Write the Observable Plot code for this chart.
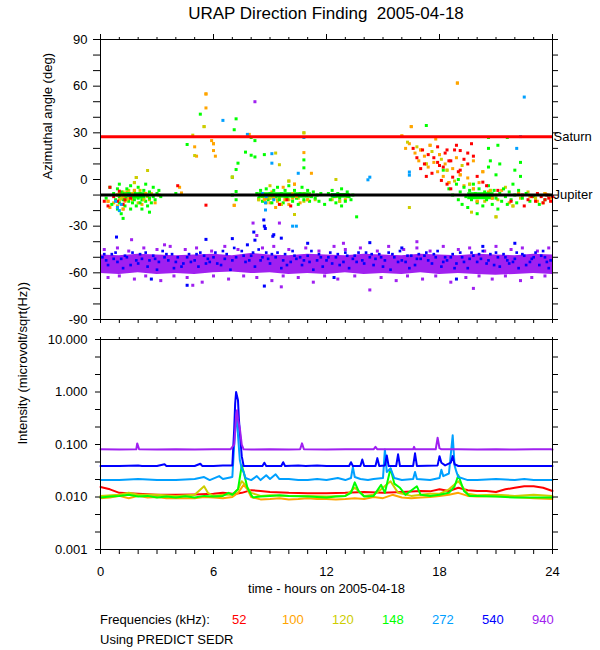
<!DOCTYPE html>
<html>
<head>
<meta charset="utf-8">
<script src="https://cdn.jsdelivr.net/npm/d3@7"></script>
<script src="https://cdn.jsdelivr.net/npm/@observablehq/plot@0.6"></script>
<style>
  body { margin: 0; background: white; }
  #wrap { position: relative; width: 600px; height: 650px; background: white; font-family: "Liberation Sans", Arial, sans-serif; color: black; }
  .abs { position: absolute; white-space: nowrap; }
</style>
</head>
<body>
<div id="wrap">
  <div id="top" class="abs" style="left:0;top:0;"></div>
  <div id="bottom" class="abs" style="left:0;top:330px;"></div>
  <div id="title" class="abs" style="left:100px;width:452px;top:4px;text-align:center;font-size:17px;z-index:5;"></div>
  <div id="legend"></div>
</div>
<script>
// ---------- DATA ----------
const titleText = "URAP Direction Finding\u00a0 2005-04-18";
const hourTicks = d3.range(0, 25, 1);
const hourLabels = [0, 6, 12, 18, 24];
const angleMinorTicks = d3.range(-90, 91, 10);
const angleTicks = [-90, -60, -30, 0, 30, 60, 90];
const intensityTicks = [0.001, 0.01, 0.1, 1, 10];
const intensityTickLabels = ["0.001", "0.010", "0.100", "1.000", "10.000"];
const planetNames = ["Saturn", "Jupiter"];
const planetAngles = [27.5, -10];
const planetColors = ["#ff0000", "#000000"];

const freqLabels = ["52", "100", "120", "148", "272", "540", "940"];
const freqColors = ["#ff0000", "#ffa500", "#cdcd00", "#00ff00", "#00a0ff", "#0000ff", "#a020f0"];

// purple (940 kHz) dense band extents, per hour
const bandHours = d3.range(0, 25, 1);
const bandHigh = [-48.5,-49,-48,-48.5,-49,-48.5,-48,-49,-47.5,-48.5,-49,-48,-48.5,-49,-48,-48.5,-49,-48,-48.5,-49,-48,-48.5,-49,-48,-48.5];
const bandLow  = [-60.5,-61,-60,-61,-60.5,-61,-60,-59.5,-60.5,-60,-61,-60.5,-61,-60,-61,-60.5,-61,-60,-61,-60.5,-61,-61.5,-61,-60.5,-61];

const purpleDots = [
 [0.2,-45],[0.9,-44],[1.5,-46],[2.3,-44],[3.0,-45],[3.7,-43],[4.5,-45],[5.1,-44],[5.9,-46],[6.6,-43],[7.3,-45],[8.6,-44],[9.2,-43],[10.0,-45],[10.9,-44],[11.6,-46],[12.4,-43],[13.0,-45],[13.8,-44],[14.7,-46],[15.3,-43],[16.1,-45],[16.8,-44],[17.5,-46],[18.2,-43],[19.0,-45],[19.6,-44],[20.4,-46],[21.0,-43],[21.8,-45],[22.4,-44],[23.2,-46],[23.8,-44],
 [0.4,-63],[1.0,-62],[1.8,-64],[2.4,-62],[3.2,-65],[3.9,-62],[4.6,-63],[5.4,-66],[6.0,-62],[6.8,-64],[7.6,-62],[8.3,-63],[9.1,-65],[9.7,-62],[10.5,-63],[11.3,-66],[11.9,-62],[12.6,-64],[13.5,-62],[14.3,-71],[14.9,-63],[15.7,-65],[16.3,-62],[17.1,-64],[17.8,-62],[18.6,-66],[19.4,-63],[20.1,-62],[20.8,-64],[21.5,-62],[22.3,-65],[22.9,-63],[23.6,-62],[4.9,-68],[9.6,-69],[19.8,-70],
 [8.2,50],[1.65,-38.7],[8.1,-28],[9.5,-28],[8.3,-36],[16.8,-40],[12.9,-41],[3.4,-42]
];
const blueDots = [
 [0.1,-50],[0.4,-55],[0.6,-48],[0.9,-53],[1.2,-57],[1.4,-50],[1.7,-47],[2.0,-54],[2.2,-51],[2.5,-56],[2.8,-49],[3.1,-53],[3.3,-46],[3.6,-52],[3.9,-57],[4.1,-50],[4.4,-54],[4.7,-48],[5.0,-52],[5.2,-56],[5.5,-49],[5.8,-53],[6.1,-47],[6.4,-55],[6.6,-51],[6.9,-58],[7.2,-50],[7.5,-46],[7.7,-53],[8.0,-49],[8.2,-56],[8.5,-52],[8.8,-47],[9.0,-54],[9.3,-50],[9.6,-57],[9.8,-48],[10.1,-53],[10.4,-51],[10.7,-55],[11.0,-49],[11.2,-46],[11.5,-52],[11.8,-56],[12.1,-50],[12.3,-54],[12.6,-48],[12.9,-53],[13.2,-57],[13.4,-51],[13.7,-47],[14.0,-54],[14.3,-50],[14.5,-55],[14.8,-48],[15.1,-52],[15.4,-58],[15.6,-50],[15.9,-46],[16.2,-53],[16.5,-49],[16.7,-55],[17.0,-51],[17.3,-47],[17.6,-54],[17.8,-50],[18.1,-56],[18.4,-52],[18.7,-48],[18.9,-54],[19.2,-50],[19.5,-57],[19.8,-49],[20.0,-53],[20.3,-46],[20.6,-52],[20.9,-55],[21.1,-50],[21.4,-48],[21.7,-54],[22.0,-51],[22.2,-57],[22.5,-49],[22.8,-53],[23.1,-47],[23.3,-55],[23.6,-50],[23.9,-52],
 [0.3,-52],[0.8,-47],[1.1,-51],[1.6,-55],[2.1,-48],[2.6,-52],[3.0,-58],[3.4,-50],[3.8,-48],[4.3,-56],[4.8,-53],[5.3,-47],[5.7,-51],[6.2,-54],[6.7,-48],[7.1,-44],[7.9,-52],[8.4,-45],[8.9,-51],[9.4,-47],[9.9,-55],[10.3,-49],[10.8,-52],[11.3,-58],[11.7,-50],[12.2,-47],[12.7,-55],[13.1,-49],[13.6,-53],[14.1,-47],[14.6,-51],[15.0,-56],[15.5,-48],[16.0,-52],[16.4,-57],[16.9,-48],[17.4,-52],[17.9,-46],[18.3,-50],[18.8,-57],[19.3,-53],[19.7,-47],[20.2,-51],[20.7,-48],[21.2,-56],[21.6,-52],[22.1,-47],[22.6,-55],[23.0,-50],[23.5,-46],[23.8,-57],
 [0.2,-48],[0.7,-51],[1.3,-49],[1.9,-52],[2.4,-47],[2.9,-51],[3.5,-48],[4.0,-53],[4.6,-50],[5.1,-48],[5.6,-54],[6.0,-50],[6.5,-46],[7.0,-52],[7.6,-49],[8.1,-47],[8.6,-50],[9.1,-48],[9.7,-52],[10.2,-46],[10.6,-50],[11.1,-53],[11.6,-48],[12.0,-52],[12.5,-50],[13.0,-47],[13.5,-49],[13.9,-52],[14.4,-48],[14.9,-50],[15.3,-47],[15.8,-53],[16.3,-49],[16.8,-51],[17.2,-49],[17.7,-48],[18.2,-53],[18.6,-50],[19.1,-47],[19.6,-51],[20.1,-48],[20.5,-54],[21.0,-47],[21.5,-50],[21.9,-53],[22.4,-48],[22.9,-51],[23.4,-49],[23.7,-53]
];
const blueOutliers = [
 [0.85,-37],[5.6,-38.5],[7.0,-38],[8.14,-33.8],[8.67,-26],[8.7,-30],[8.75,-31.5],[9.2,-35.5],[9.15,-36.5],[9.6,-37.7],[11.0,-41],[14.3,-40.6],[4.6,-68],[8.7,-68.5],[8.2,-39],[7.8,-42],[16.0,-44],[20.3,-43],[22.0,-41],[18.9,-64],[12.4,-63],[2.7,-64]
];
const orangeDots = [
 [0.9,-10],[1.0,-13],[1.1,-9],[1.2,-11],[1.3,-14],[1.4,-8],[1.5,-12],[1.6,-10],[1.7,-13],[1.8,-7],[2.0,-10],[2.2,-16],[2.4,-9],[2.6,-13],[0.7,-15],[0.4,-14],[0.5,-18],[0.9,-17],[1.2,-19],[2.9,-15],[3.1,-10],[1.35,-10],[1.45,-12.5],
 [4.2,-5],[4.3,-8.8],[5.0,21],[5.1,15],[5.6,55],[5.6,46],[5.9,25],[6.0,23],[6.0,18.6],[6.1,15],[7.1,-16.6],[10.8,17.3],[11.2,4],[18.95,62],[7.9,29],
 [8.5,-10],[8.7,-13],[8.9,-11],[9.0,-15],[9.2,-12],[9.4,-14],[9.6,-10],[9.8,-13],[10.0,-16],[10.2,-12],[10.4,-11],[10.6,-15],[10.8,-9],[11.0,-13],[9.1,-8],[9.7,-5],[10.3,-3],[9.3,-18],[9.5,-12],[8.8,-12],[12.5,-11],[13.0,-13],
 [16.0,28],[16.2,20],[16.4,23],[16.5,34],[16.7,17],[16.9,12],[17.0,19],[17.2,15],[17.4,8],[17.5,22],[17.7,11],[17.9,5],[18.0,16],[18.2,2],[18.3,10],[18.5,-2],[18.7,7],[18.9,14],[19.1,3],[19.3,-4],[19.5,1],[19.8,-6],[20.1,-2],[20.4,-9],[20.8,-12],[21.3,-7],[21.7,-15],[22.2,-9],[22.8,-11],[23.2,-14],[23.6,-9],[23.9,-12],[19.8,12],[20.3,5],[17.8,26],[19.6,-11],[20.0,-14],[20.6,-8],[21.0,-10]
];
const yellowDots = [
 [1.0,-9],[1.1,-12],[1.2,-8],[1.3,-11],[1.4,-13],[1.5,-7],[1.6,-12],[1.7,-9],[1.9,-11],[2.1,-7],[2.3,-13],[2.5,-11],[2.7,-9],[1.8,-2],[2.0,-15],[2.5,5.8],[1.9,1.3],[1.25,-10],[1.55,-9.5],
 [5.5,34],[4.9,28.5],[5.0,15.4],[7.0,1.5],[9.3,17],[9.5,9.5],[10.8,30],[12.5,0],[10.3,-22.5],
 [8.4,-13],[8.6,-11],[8.8,-15],[9.0,-12],[9.2,-10],[9.4,-13],[9.6,-16],[9.8,-11],[10.0,-13],[10.2,-9],[10.5,-12],[10.8,-14],[11.1,-10],[11.4,-13],[12.3,-13],[12.7,-14],[13.1,-11],[9.0,-4],[10.0,-1],
 [16.3,24],[16.8,21],[17.3,10],[17.6,18],[18.1,13],[18.4,6],[18.8,-1],[19.2,9],[19.6,-3],[20.0,-10],[20.4,-14],[20.7,-7],[21.1,-13],[21.5,-5],[21.9,-17],[22.3,-12],[22.7,-8],[23.1,-12],[23.5,-15],[23.8,-10],[21.0,-24],[19.7,-21],[16.4,-18]
];
const greenCore = [
 [1.2, 2.4, -8.5, -12.5],
 [8.4, 11.2, -8.5, -12],
 [12.25, 13.25, -9, -12],
 [19.5, 20.9, -8.5, -13]
];
const greenDots = [
 [0.3,-12],[0.5,-5],[0.6,-16],[0.7,-9],[0.8,-13],[0.9,-6],[0.9,-19],[1.0,-11],[1.0,-15],[1.1,-8],[1.1,-22],[1.2,-13],[1.3,-10],[1.3,-17],[1.4,-6],[1.4,-12],[1.5,-14],[1.5,-9],[1.6,-19],[1.6,-4],[1.7,-11],[1.7,-15],[1.8,-8],[1.8,-13],[1.9,-17],[1.9,-10],[2.0,-5],[2.0,-12],[2.1,-15],[2.1,-9],[2.2,-13],[2.2,-19],[2.3,-7],[2.3,-11],[2.4,-14],[2.4,-3],[2.5,-10],[2.5,-17],[2.6,-12],[2.6,-8],[2.7,-15],[2.8,-5],[2.8,-11],[2.9,-13],[3.0,-9],[3.1,-7],[3.2,-11],[1.2,-25],[2.6,-21],[4.0,-9],[1.0,-3],
 [4.6,22.5],[5.3,42],[7.1,32],[7.2,39],[7.3,10.5],[7.2,6.4],[7.0,1.5],[7.2,-7.7],[7.2,-13],[7.7,17.6],[8.0,27],[8.2,25],[8.0,15.6],[8.2,14.5],[7.0,-10],[8.7,16],[10.8,12.6],[10.8,7.5],
 [8.3,-9],[8.4,-12],[8.5,-7],[8.6,-14],[8.7,-10],[8.8,-6],[8.9,-13],[9.0,-9],[9.1,-15],[9.2,-7],[9.3,-11],[9.4,-5],[9.5,-13],[9.6,-9],[9.7,-15],[9.8,-7],[9.9,-12],[10.0,-4],[10.1,-10],[10.2,-14],[10.3,-7],[10.4,-12],[10.5,-16],[10.6,-9],[10.7,-5],[10.8,-13],[10.9,-10],[11.0,-7],[11.1,-14],[11.2,-11],[11.3,-8],[11.4,-12],[11.5,-10],[11.6,-14],[11.7,-9],[12.1,-9],[12.2,-13],[12.3,-7],[12.4,-11],[12.5,-15],[12.6,-9],[12.7,-12],[12.8,-6],[12.9,-10],[13.0,-14],[13.1,-8],[13.2,-11],[13.3,-13],[13.4,-10],[12.8,-17],[11.9,-16],[13.6,-24],
 [18.5,-6],[18.7,-10],[18.9,-3],[19.0,-13],[19.1,-8],[19.2,-16],[19.3,-5],[19.4,-11],[19.5,-18],[19.6,-7],[19.7,-13],[19.8,-3],[19.9,-9],[20.0,-15],[20.1,-6],[20.2,-11],[20.3,-17],[20.4,-8],[20.5,-13],[20.6,-4],[20.7,-10],[20.8,-16],[20.9,-7],[21.0,-12],[21.1,-19],[21.2,-9],[21.3,-14],[21.4,-6],[21.5,-11],[21.6,-16],[21.7,-8],[21.8,-13],[21.9,-3],[22.0,-10],[22.1,-15],[22.2,-7],[22.4,-12],[22.6,-9],[22.8,-14],[23.0,-11],[23.3,-16],[23.6,-13],[20.0,-22],[21.0,3],[19.0,0],[22.3,2],[18.2,6],
 [17.3,34.7],[20.6,27],[21.6,27],[21.1,22],[22.3,11],[22.0,6],[21.2,10],[20.7,12],[20.6,8],[20.6,20]
];
const redDots = [
 [0.2,-14],[0.4,-17],[0.5,-5],[0.7,-11],[0.9,-14],[1.0,-7.5],[1.2,-16],[1.3,-13],[1.6,-12],
 [4.1,-4],[5.6,-16.5],[10.1,-17],[9.5,-16],[9.9,-13],
 [16.6,20],[16.8,14],[17.0,7],[17.1,19],[17.2,10],[17.4,16],[17.6,4],[17.7,14],[17.9,21],[18.0,9],[18.1,-0.6],[18.2,8],[18.3,17],[18.4,-3],[18.5,12],[18.6,12],[18.7,1.5],[18.8,19],[18.9,22],[19.0,5],[19.1,18.6],[19.1,6],[19.3,13],[19.5,17],[19.5,10],[19.7,23],[19.8,15],[20.0,2],[20.3,-1.7],[20.5,-4],[21.1,-7],[17.3,2],[18.6,-6],[17.9,11],[18.4,19],
 [22.5,-17],[22.7,-13],[22.9,-11],[23.1,-14],[23.2,-9],[23.4,-11],[23.5,-15],[23.6,-13],[23.7,-10],[23.8,-12],[23.9,-14],[24.0,-11],[22.4,-10],[21.8,-14]
];
const skyDots = [
 [0.8,-14],[0.9,-18],[1.0,-20],[1.5,-10],[1.1,-16],[6.5,38],[7.8,29],[9.1,16.6],[9.1,10.5],[10.8,27],[10.5,4],[14.3,1.5],[10.4,-30],[8.8,-11],[9.2,-13],[8.6,-9],[12.4,-10],[16.4,4.8],[22.5,53],[22.3,27.6],[22.1,20],[10.2,-30],[8.76,-19.6],[8.76,-15],[14.2,-0.2],[16.4,2.8]
];

// bottom panel: intensity time series [hour, microvolt/sqrt(Hz)]
const red52 = [[0,0.0155],[0.5,0.014],[1,0.012],[2,0.0115],[3,0.011],[4,0.011],[5,0.0112],[6,0.0115],[6.5,0.012],[7,0.0115],[7.2,0.0115],[7.5,0.012],[8.0,0.0135],[8.5,0.013],[9,0.0125],[10,0.012],[11,0.0118],[12,0.0118],[13,0.012],[14,0.0125],[15,0.012],[16,0.0125],[17,0.013],[17.5,0.0128],[18,0.014],[18.5,0.013],[19,0.015],[19.5,0.0135],[20,0.013],[20.5,0.013],[21,0.0125],[21.5,0.014],[22,0.015],[22.5,0.016],[23,0.016],[23.5,0.015],[24,0.013]];
const orange100 = [[0,0.0095],[0.5,0.0098],[1,0.0105],[1.5,0.0095],[2,0.0105],[2.5,0.0098],[3,0.01],[3.5,0.0095],[4,0.0096],[4.5,0.0095],[5,0.0095],[5.5,0.01],[6,0.0098],[6.5,0.0095],[7.0,0.01],[7.3,0.012],[7.6,0.017],[7.8,0.014],[8.0,0.01],[8.5,0.009],[9,0.0092],[9.5,0.0095],[10,0.009],[10.5,0.0092],[11,0.0095],[11.5,0.0092],[12,0.0092],[12.5,0.009],[13,0.0092],[13.5,0.0095],[14,0.0092],[14.5,0.01],[15,0.0095],[15.5,0.011],[16,0.0098],[16.5,0.0095],[17,0.0098],[17.5,0.01],[18,0.0105],[18.5,0.011],[19,0.012],[19.5,0.0105],[20,0.0102],[21,0.0105],[22,0.01],[23,0.0095],[24,0.0092]];
const yellow120 = [[0,0.0105],[1,0.011],[1.5,0.012],[2,0.011],[3,0.011],[4,0.0105],[5,0.011],[5.5,0.016],[5.7,0.012],[6,0.0105],[6.5,0.011],[7.0,0.011],[7.3,0.014],[7.5,0.02],[7.7,0.017],[8.0,0.012],[8.5,0.0105],[9,0.0108],[10,0.0105],[11,0.0105],[12,0.0102],[13,0.0105],[13.5,0.015],[14,0.0105],[14.5,0.011],[14.9,0.014],[15.4,0.02],[15.8,0.012],[16.5,0.0105],[17,0.011],[17.5,0.0115],[18,0.0115],[18.5,0.014],[19.0,0.02],[19.5,0.0115],[20,0.0108],[21,0.011],[22,0.0105],[23,0.011],[24,0.0105]];
const green148 = [[0,0.0098],[0.5,0.0102],[1,0.0105],[1.5,0.011],[2,0.0102],[2.5,0.0105],[3,0.0098],[3.5,0.0102],[4,0.0098],[4.5,0.0103],[5,0.0098],[5.5,0.0105],[6,0.0102],[6.5,0.0105],[6.8,0.012],[7.0,0.011],[7.3,0.014],[7.5,0.04],[7.6,0.03],[7.8,0.015],[8.0,0.011],[8.1,0.0098],[8.5,0.0102],[9,0.0105],[9.5,0.0108],[10,0.0105],[11,0.0102],[12,0.0098],[12.5,0.0102],[13,0.0105],[13.3,0.012],[13.5,0.019],[13.7,0.013],[14,0.0102],[14.5,0.0105],[14.9,0.017],[15.1,0.012],[15.4,0.035],[15.6,0.018],[15.9,0.015],[16.2,0.011],[16.8,0.016],[17.0,0.011],[17.5,0.0105],[18,0.011],[18.5,0.012],[18.8,0.016],[19.0,0.026],[19.3,0.013],[19.6,0.0105],[20,0.0105],[21,0.0102],[22,0.0098],[23,0.0098],[24,0.0098]];
const sky272 = [[0,0.021],[1,0.021],[2,0.022],[3,0.021],[4,0.021],[5,0.022],[5.5,0.024],[5.8,0.021],[6.3,0.025],[6.5,0.022],[7.0,0.024],[7.1,0.1],[7.2,0.3],[7.25,0.4],[7.3,0.15],[7.4,0.05],[7.5,0.035],[7.6,0.03],[7.7,0.023],[8.0,0.021],[8.3,0.025],[8.5,0.021],[8.8,0.026],[9.0,0.022],[9.3,0.027],[9.5,0.022],[10,0.022],[10.5,0.021],[11,0.021],[11.5,0.022],[12,0.021],[12.6,0.023],[13,0.021],[13.3,0.023],[13.4,0.037],[13.5,0.024],[13.8,0.022],[14.2,0.021],[14.5,0.022],[15.0,0.023],[15.1,0.08],[15.2,0.03],[15.4,0.035],[15.6,0.023],[16.0,0.021],[16.6,0.022],[16.7,0.03],[16.8,0.022],[17.5,0.021],[18.0,0.023],[18.1,0.033],[18.2,0.025],[18.5,0.028],[18.7,0.15],[18.8,0.04],[18.9,0.03],[19.0,0.024],[19.5,0.021],[20,0.021],[21,0.022],[22,0.021],[22.5,0.022],[23,0.021],[24,0.021]];
const blue540 = [[0,0.039],[1,0.039],[2,0.04],[2.2,0.039],[3,0.039],[3.4,0.042],[3.5,0.039],[4,0.039],[4.5,0.039],[5,0.039],[5.3,0.043],[5.4,0.039],[6,0.039],[6.5,0.04],[7.0,0.04],[7.1,0.2],[7.15,0.6],[7.2,1.0],[7.3,0.7],[7.35,0.3],[7.45,0.1],[7.5,0.06],[7.6,0.039],[8,0.039],[8.6,0.039],[8.7,0.045],[8.8,0.039],[9.6,0.039],[9.7,0.046],[9.8,0.039],[10.5,0.04],[10.9,0.039],[11.5,0.04],[12,0.039],[13.2,0.039],[13.3,0.046],[13.4,0.039],[13.8,0.039],[13.9,0.052],[14.0,0.039],[14.6,0.039],[14.7,0.055],[14.8,0.039],[15.1,0.04],[15.2,0.062],[15.3,0.039],[15.7,0.039],[15.8,0.065],[15.9,0.039],[16.6,0.039],[16.7,0.068],[16.8,0.039],[17.9,0.04],[18.0,0.06],[18.1,0.045],[18.3,0.04],[18.6,0.045],[18.7,0.06],[18.8,0.042],[19.0,0.039],[20,0.039],[21,0.039],[22,0.039],[23,0.039],[24,0.039]];
const purple940 = [[0,0.081],[1,0.080],[1.9,0.081],[1.95,0.105],[2.05,0.081],[3,0.080],[4,0.081],[5,0.080],[6,0.081],[6.9,0.081],[7.1,0.1],[7.2,0.35],[7.25,0.45],[7.3,0.3],[7.4,0.2],[7.5,0.1],[7.6,0.081],[8,0.080],[9,0.081],[10,0.080],[10.6,0.081],[10.7,0.105],[10.8,0.081],[12,0.080],[13,0.081],[14.5,0.081],[14.6,0.09],[14.7,0.081],[15.5,0.081],[16.6,0.081],[16.65,0.09],[16.7,0.081],[17.8,0.081],[17.9,0.135],[18.0,0.085],[18.1,0.081],[19,0.081],[20,0.080],[21,0.081],[22,0.080],[23,0.081],[23.9,0.081],[24,0.08]];

// ---------- RENDER ----------
document.getElementById("title").textContent = titleText;
const font = "'Liberation Sans', Arial, sans-serif";
const style = { fontFamily: font, fontSize: "13px", color: "black", background: "transparent", overflow: "visible" };
const blank = () => "";
const dotOpts = (color) => ({ x: d => d[0], y: d => d[1], symbol: "square", r: 1.7, fill: color, stroke: null });
const logMinor = d3.range(-9, 4).map(k => Math.pow(10, k / 3));

const topPlot = Plot.plot({
  width: 600, height: 330,
  marginTop: 39, marginBottom: 11, marginLeft: 100, marginRight: 48,
  style,
  x: { domain: [0, 24] },
  y: { domain: [-90, 90] },
  marks: [
    Plot.areaY(bandHours, { x: (d, i) => bandHours[i], y1: (d, i) => bandLow[i], y2: (d, i) => bandHigh[i], fill: freqColors[6] }),
    Plot.dot(purpleDots, dotOpts(freqColors[6])),
    Plot.dot(blueDots, { ...dotOpts(freqColors[5]), r: 1.5 }),
    Plot.dot(blueOutliers, dotOpts(freqColors[5])),
    Plot.dot(orangeDots, dotOpts(freqColors[1])),
    Plot.dot(yellowDots, dotOpts(freqColors[2])),
    Plot.rect(greenCore, { x1: d => d[0], x2: d => d[1], y1: d => d[2], y2: d => d[3], fill: freqColors[3] }),
    Plot.dot(greenDots, dotOpts(freqColors[3])),
    Plot.dot(orangeDots.filter((d, i) => i % 3 === 0), dotOpts(freqColors[1])),
    Plot.dot(yellowDots.filter((d, i) => i % 3 === 1), dotOpts(freqColors[2])),
    Plot.dot(redDots, dotOpts(freqColors[0])),
    Plot.dot(skyDots, dotOpts(freqColors[4])),
    Plot.ruleY(planetAngles, { y: d => d, stroke: (d, i) => planetColors[i], strokeWidth: 3 }),
    Plot.text(planetNames, { y: planetAngles, text: planetNames, frameAnchor: "right", textAnchor: "start", dx: 1, fill: "black", fontSize: 13 }),
    Plot.frame({ stroke: "black" }),
    Plot.axisX({ anchor: "top", ticks: hourTicks, tickSize: 3, tickFormat: blank, label: null }),
    Plot.axisX({ anchor: "top", ticks: hourLabels, tickSize: 6, tickFormat: blank, label: null }),
    Plot.axisX({ anchor: "bottom", ticks: hourTicks, tickSize: 4, tickFormat: blank, label: null }),
    Plot.axisY({ anchor: "left", ticks: angleMinorTicks, tickSize: 7, tickFormat: blank, label: null }),
    Plot.axisY({ anchor: "left", ticks: angleTicks, tickSize: 0, tickPadding: 13, tickFormat: d => String(d), label: null, fill: "black" }),
    Plot.axisY({ anchor: "right", ticks: angleMinorTicks, tickSize: 5, tickFormat: blank, label: null }),
    Plot.text(["Azimuthal angle (deg)"], { frameAnchor: "left", text: d => d, rotate: -90, dx: -53, fill: "black", fontSize: 13 })
  ]
});
document.getElementById("top").appendChild(topPlot);

const bottomPlot = Plot.plot({
  width: 600, height: 270,
  marginTop: 9, marginBottom: 51, marginLeft: 100, marginRight: 48,
  style,
  x: { domain: [0, 24] },
  y: { type: "log", domain: [0.001, 10] },
  marks: [
    Plot.line(red52, { x: d => d[0], y: d => d[1], stroke: freqColors[0], strokeWidth: 2 }),
    Plot.line(orange100, { x: d => d[0], y: d => d[1], stroke: freqColors[1], strokeWidth: 2 }),
    Plot.line(yellow120, { x: d => d[0], y: d => d[1], stroke: freqColors[2], strokeWidth: 2 }),
    Plot.line(green148, { x: d => d[0], y: d => d[1], stroke: freqColors[3], strokeWidth: 2 }),
    Plot.line(sky272, { x: d => d[0], y: d => d[1], stroke: freqColors[4], strokeWidth: 2 }),
    Plot.line(blue540, { x: d => d[0], y: d => d[1], stroke: freqColors[5], strokeWidth: 2 }),
    Plot.line(purple940, { x: d => d[0], y: d => d[1], stroke: freqColors[6], strokeWidth: 2 }),
    Plot.frame({ stroke: "black" }),
    Plot.axisX({ anchor: "top", ticks: hourTicks, tickSize: 3, tickFormat: blank, label: null }),
    Plot.axisX({ anchor: "bottom", ticks: hourTicks, tickSize: 5, tickFormat: blank, label: null }),
    Plot.axisX({ anchor: "bottom", ticks: hourLabels, tickSize: 0, tickPadding: 17, tickFormat: d => String(d), label: null, fill: "black" }),
    Plot.axisY({ anchor: "left", ticks: logMinor, tickSize: 5, tickFormat: blank, label: null }),
    Plot.axisY({ anchor: "left", ticks: intensityTicks, tickSize: 0, tickPadding: 13, tickFormat: d => intensityTickLabels[intensityTicks.findIndex(v => Math.abs(v - d) < d * 1e-6)], label: null, fill: "black" }),
    Plot.axisY({ anchor: "right", ticks: logMinor, tickSize: 5, tickFormat: blank, label: null }),
    Plot.text(["Intensity (microvolt/sqrt(Hz))"], { frameAnchor: "left", text: d => d, rotate: -90, dx: -78, fill: "black", fontSize: 13 }),
    Plot.text(["time - hours on 2005-04-18"], { frameAnchor: "bottom", text: d => d, dy: 43, fill: "black", fontSize: 13 })
  ]
});
document.getElementById("bottom").appendChild(bottomPlot);

// legend
const legend = document.getElementById("legend");
const lab = document.createElement("div");
lab.className = "abs";
lab.style.cssText = "left:100px;top:612px;font-size:13px;";
lab.textContent = "Frequencies (kHz):";
legend.appendChild(lab);
freqLabels.forEach((f, i) => {
  const s = document.createElement("div");
  s.className = "abs";
  s.style.cssText = `left:${232 + i * 50}px;top:612px;font-size:13px;color:${freqColors[i]};`;
  s.textContent = f;
  legend.appendChild(s);
});
const src = document.createElement("div");
src.className = "abs";
src.style.cssText = "left:100px;top:632px;font-size:13px;";
src.textContent = "Using PREDICT SEDR";
legend.appendChild(src);
</script>
</body>
</html>
